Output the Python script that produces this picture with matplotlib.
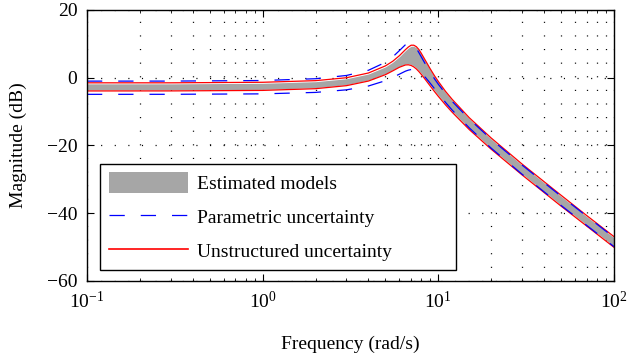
import numpy as np
import matplotlib.pyplot as plt

plt.rcParams['font.family'] = ['Liberation Serif', 'DejaVu Serif']
plt.rcParams['mathtext.fontset'] = 'stix'
plt.rcParams['lines.scale_dashes'] = False

# Frequency grid (rad/s)
freq = [0.1, 0.3, 1, 2, 3, 4, 5, 5.5, 6, 6.5, 6.75, 7, 7.25, 7.5, 7.75, 8,
        8.5, 9, 9.5, 10, 11, 12, 15, 20, 30, 50, 70, 100]

# Estimated models (gray band), dB
est_hi = [-1.8, -1.8, -1.64, -1.16, -0.3, 1.1, 3.2, 4.56, 6.2, 8.0, 8.76, 9.3,
          9.3, 8.86, 8.03, 6.9, 4.53, 2.3, 0.32, -1.4, -4.35, -6.7, -12.1,
          -18.1, -25.8, -35.0, -41.0, -47.2]
est_lo = [-3.6, -3.59, -3.44, -2.93, -2.04, -0.68, 1.21, 2.32, 3.39, 4.07, 4.12,
          3.93, 3.5, 2.89, 2.13, 1.29, -0.46, -2.16, -3.75, -5.19, -7.74, -9.9,
          -15.0, -20.8, -28.4, -37.6, -43.5, -49.76]

# Parametric uncertainty bounds (blue dashed), dB
par_hi = [-1.0, -0.99, -0.82, -0.29, 0.67, 2.2, 4.55, 6.14, 8.0, 9.75, 10.24,
          10.2, 9.62, 8.64, 7.42, 6.15, 3.74, 1.59, -0.28, -1.92, -4.7, -7.0,
          -12.2, -18.15, -25.8, -34.98, -40.9, -47.16]
par_lo = [-4.9, -4.89, -4.76, -4.33, -3.57, -2.44, -0.87, 0.09, 1.05, 1.94, 2.24,
          2.42, 2.42, 2.23, 1.84, 1.31, -0.09, -1.65, -3.19, -4.67, -7.31, -9.57,
          -14.8, -20.8, -28.5, -37.7, -43.6, -49.85]

# Unstructured uncertainty bounds (red), dB
uns_hi = [-1.5, -1.5, -1.34, -0.86, 0.0, 1.4, 3.5, 4.86, 6.5, 8.3, 9.06, 9.6,
          9.6, 9.16, 8.33, 7.2, 4.83, 2.6, 0.62, -1.1, -4.05, -6.4, -11.8,
          -17.8, -25.5, -34.7, -40.7, -46.9]
uns_lo = [-3.9, -3.89, -3.74, -3.23, -2.34, -0.98, 0.91, 2.02, 3.09, 3.77, 3.82,
          3.63, 3.2, 2.59, 1.83, 0.99, -0.76, -2.46, -4.05, -5.49, -8.04, -10.2,
          -15.3, -21.1, -28.7, -37.9, -43.8, -50.06]

fig = plt.figure(figsize=(6.28, 3.58), dpi=100)
ax = fig.add_axes([0.1385, 0.2151, 0.8392, 0.7570])

dots = (0, (0.8, 9))
ax.grid(which='major', axis='both', linestyle=dots, color='k', lw=0.9)
ax.grid(which='minor', axis='x', linestyle=dots, color='k', lw=0.9)
ax.set_axisbelow(True)

band = ax.fill_between(freq, est_lo, est_hi, color='#a6a6a6', lw=0)
red_line, = ax.plot(freq, uns_hi, color='red', lw=0.9)
ax.plot(freq, uns_lo, color='red', lw=0.9)
blue_line, = ax.plot(freq, par_hi, color='blue', lw=0.9, linestyle=(0, (11, 11.5)))
ax.plot(freq, par_lo, color='blue', lw=0.9, linestyle=(0, (11, 11.5)))

ax.set_xscale('log')
ax.set_xlim(0.1, 100)
ax.set_ylim(-60, 20)
ax.set_yticks([-60, -40, -20, 0, 20])

ax.tick_params(which='both', direction='in', top=True, right=True, labelsize=14)
ax.tick_params(which='major', length=5, width=0.8, pad=7)
ax.tick_params(which='minor', length=2.5, width=0.6)
for s in ax.spines.values():
    s.set_linewidth(1.0)

ax.set_xlabel('Frequency (rad/s)', fontsize=14, labelpad=17)
ax.set_ylabel('Magnitude (dB)', fontsize=14, labelpad=14)

leg = ax.legend([band, blue_line, red_line],
                ['Estimated models', 'Parametric uncertainty', 'Unstructured uncertainty'],
                loc='lower left', bbox_to_anchor=(0.0247, 0.0406, 0.6755, 0.4),
                mode='expand', borderaxespad=0, fontsize=14, fancybox=False,
                edgecolor='k', framealpha=1, handlelength=4.1, handleheight=1.29,
                handletextpad=0.45, labelspacing=0.66, borderpad=0.45)
leg.get_frame().set_linewidth(1.0)
leg.get_lines()[1].set_linewidth(1.2)

fig.savefig('out.png', dpi=100)
